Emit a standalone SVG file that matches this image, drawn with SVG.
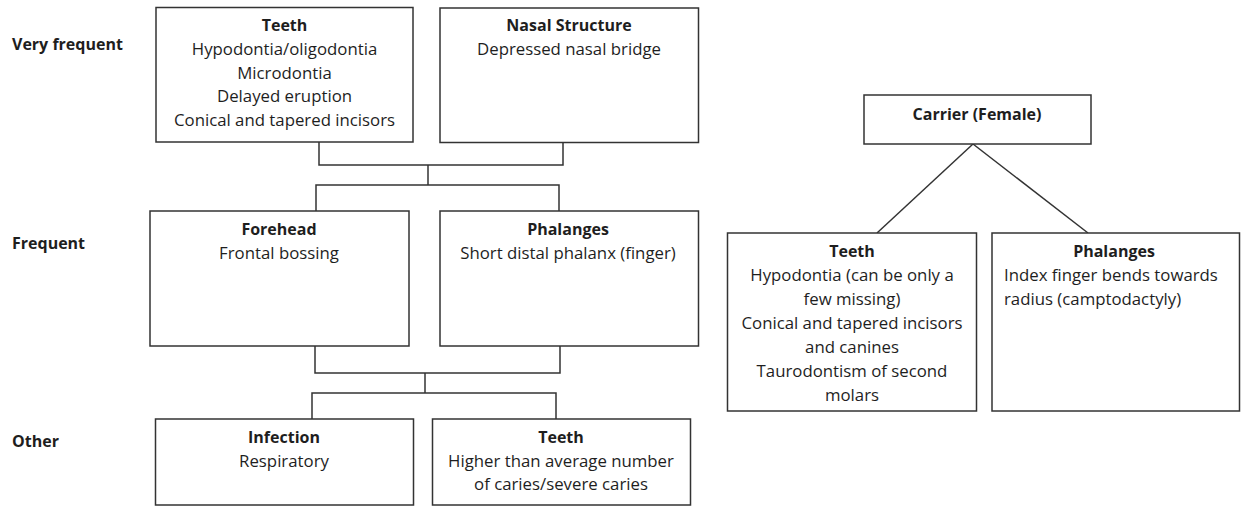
<svg xmlns="http://www.w3.org/2000/svg" width="1248" height="506" viewBox="0 0 1248 506">
<style>
.box{fill:#fff;stroke:#333;stroke-width:1.5}
.ln{fill:none;stroke:#333;stroke-width:1.5}
text{font-family:"Open Sans","Liberation Sans",sans-serif;font-size:16.8px;fill:#1e1e1e}
.b{font-weight:bold;font-size:16px}
.c{text-anchor:middle}
</style>
<rect width="1248" height="506" fill="#fff"/>
<g id="labels">
<text class="b" x="12" y="50">Very frequent</text>
<text class="b" x="12" y="249">Frequent</text>
<text class="b" x="12" y="447">Other</text>
</g>
<g id="connectors">
<polyline class="ln" points="319,142 319,165 563,165 563,143"/>
<polyline class="ln" points="428,165 428,185"/>
<polyline class="ln" points="316,211 316,185 559,185 559,211"/>
<polyline class="ln" points="315,346 315,373 560,373 560,346"/>
<polyline class="ln" points="425,373 425,393"/>
<polyline class="ln" points="312,419 312,393 556,393 556,419"/>
<line class="ln" x1="973" y1="144" x2="877" y2="233"/>
<line class="ln" x1="973" y1="144" x2="1088" y2="233"/>
</g>
<g id="teeth-vf">
<rect class="box" x="156" y="7.5" width="257" height="134.5"/>
<text class="c" x="284.5"><tspan class="b" x="284.5" y="31">Teeth</tspan><tspan x="284.5" y="55">Hypodontia/oligodontia</tspan><tspan x="284.5" y="78.5">Microdontia</tspan><tspan x="284.5" y="102">Delayed eruption</tspan><tspan x="284.5" y="125.5">Conical and tapered incisors</tspan></text>
</g>
<g id="nasal">
<rect class="box" x="440" y="8" width="258.5" height="134.5"/>
<text class="c" x="569"><tspan class="b" x="569" y="31">Nasal Structure</tspan><tspan x="569" y="55">Depressed nasal bridge</tspan></text>
</g>
<g id="forehead">
<rect class="box" x="150" y="211" width="259" height="135"/>
<text class="c" x="279"><tspan class="b" x="279" y="235">Forehead</tspan><tspan x="279" y="259">Frontal bossing</tspan></text>
</g>
<g id="phalanges-f">
<rect class="box" x="440" y="211" width="258.5" height="135"/>
<text class="c" x="568"><tspan class="b" x="568" y="235">Phalanges</tspan><tspan x="568" y="259">Short distal phalanx (finger)</tspan></text>
</g>
<g id="infection">
<rect class="box" x="155.5" y="419" width="258" height="86"/>
<text class="c" x="284"><tspan class="b" x="284" y="443">Infection</tspan><tspan x="284" y="467">Respiratory</tspan></text>
</g>
<g id="teeth-other">
<rect class="box" x="432.5" y="419" width="258" height="86"/>
<text class="c" x="561"><tspan class="b" x="561" y="443">Teeth</tspan><tspan x="561" y="467">Higher than average number</tspan><tspan x="561" y="490">of caries/severe caries</tspan></text>
</g>
<g id="carrier">
<rect class="box" x="864" y="95" width="227" height="49"/>
<text class="c b" x="977" y="120">Carrier (Female)</text>
</g>
<g id="teeth-carrier">
<rect class="box" x="727.5" y="233" width="249" height="178"/>
<text class="c" x="852"><tspan class="b" x="852" y="257">Teeth</tspan><tspan x="852" y="281">Hypodontia (can be only a</tspan><tspan x="852" y="305">few missing)</tspan><tspan x="852" y="329">Conical and tapered incisors</tspan><tspan x="852" y="353">and canines</tspan><tspan x="852" y="377">Taurodontism of second</tspan><tspan x="852" y="401">molars</tspan></text>
</g>
<g id="phalanges-carrier">
<rect class="box" x="992" y="233" width="247.5" height="178"/>
<text class="b c" x="1114" y="257">Phalanges</text>
<text x="1004"><tspan x="1004" y="281">Index finger bends towards</tspan><tspan x="1004" y="305">radius (camptodactyly)</tspan></text>
</g>
</svg>
